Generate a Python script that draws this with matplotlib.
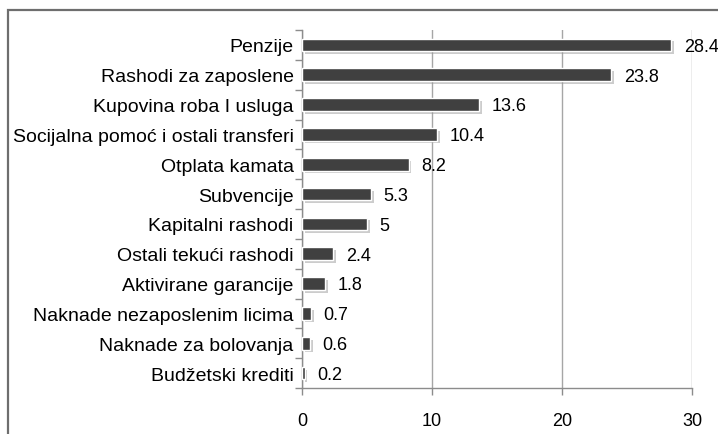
import matplotlib
matplotlib.use("Agg")
import matplotlib.pyplot as plt
import matplotlib.patheffects as pe
from matplotlib.patches import Rectangle
import numpy as np

categories = ["Penzije", "Rashodi za zaposlene", "Kupovina roba I usluga",
              "Socijalna pomoć i ostali transferi", "Otplata kamata", "Subvencije",
              "Kapitalni rashodi", "Ostali tekući rashodi", "Aktivirane garancije",
              "Naknade nezaposlenim licima", "Naknade za bolovanja", "Budžetski krediti"]
values = [28.4, 23.8, 13.6, 10.4, 8.2, 5.3, 5, 2.4, 1.8, 0.7, 0.6, 0.2]
value_labels = ["28.4", "23.8", "13.6", "10.4", "8.2", "5.3", "5", "2.4", "1.8", "0.7", "0.6", "0.2"]
xticks = [0, 10, 20, 30]

plt.rcParams['font.family'] = ['Liberation Sans', 'DejaVu Sans']

W, H = 718, 435
fig = plt.figure(figsize=(W/100, H/100), dpi=100)
fig.patch.set_facecolor('white')

# outer border
fig.add_artist(Rectangle((8/W, -0.1), 1.2, (H-11)/H + 0.1, transform=fig.transFigure,
                         fill=False, edgecolor='#6e6e6e', linewidth=1.6))

ax = fig.add_axes([302/W, (H-389)/H, (692-302)/W, (389-31)/H])
y = np.arange(len(categories))
bars = ax.barh(y, values, height=0.42, color='#404040', edgecolor='white', linewidth=1.0, zorder=3)
for b in bars:
    b.set_path_effects([pe.SimplePatchShadow(offset=(2, -2), shadow_rgbFace='#9a9a9a', alpha=0.5),
                        pe.Normal()])

for yi, v, lab in zip(y, values, value_labels):
    ax.annotate(lab, (v, yi), xytext=(9, -1), textcoords='offset points',
                va='center', ha='left', fontsize=13, color='black', zorder=4)

ax.set_xlim(0, 30)
ax.set_ylim(len(categories) - 0.5, -0.5)
ax.set_xticks(xticks)
ax.set_xticklabels([str(t) for t in xticks], fontsize=13)
ax.set_yticks(y)
ax.set_yticklabels(categories, fontsize=14)
ax.set_yticks(np.arange(len(categories) + 1) - 0.5, minor=True)
ax.tick_params(axis='y', which='major', length=0, pad=6)
ax.tick_params(axis='y', which='minor', length=5, color='#8c8c8c', width=1)
ax.tick_params(axis='x', which='major', length=5, color='#8c8c8c', width=1, pad=12)

ax.grid(axis='x', color='#a6a6a6', linewidth=1, zorder=0)
ax.set_axisbelow(True)
for s in ['top', 'right']:
    ax.spines[s].set_visible(False)
for s in ['left', 'bottom']:
    ax.spines[s].set_color('#8c8c8c')
    ax.spines[s].set_linewidth(1)

fig.savefig("out.png", dpi=100, facecolor='white')
